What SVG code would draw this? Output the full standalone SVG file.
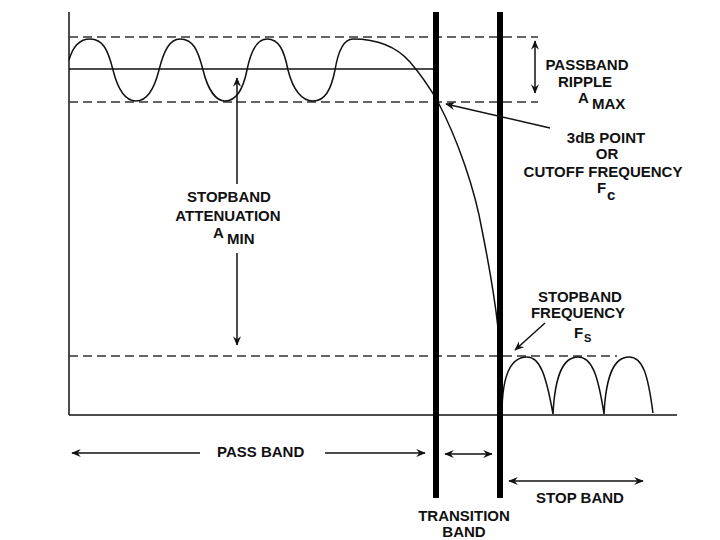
<svg xmlns="http://www.w3.org/2000/svg" width="720" height="540" viewBox="0 0 720 540">
<style>
.t{font-family:"Liberation Sans",Arial,sans-serif;font-weight:bold;font-size:15px;fill:#111}
.m{text-anchor:middle}
.thin{stroke:#111;stroke-width:1.5;fill:none}
.dash{stroke:#333;stroke-width:1.5;stroke-dasharray:9,5;fill:none}
.thick{stroke:#000;stroke-width:6;fill:none}
.arr{stroke:#111;stroke-width:1.5;fill:none;marker-end:url(#ah)}
.arr2{stroke:#111;stroke-width:1.5;fill:none;marker-end:url(#ah);marker-start:url(#ahs)}
</style>
<defs>
<marker id="ah" viewBox="0 0 12 10" refX="11" refY="5" markerWidth="10" markerHeight="8" markerUnits="userSpaceOnUse" orient="auto">
<path d="M0,0 L12,5 L0,10 L4,5 z" fill="#111"/>
</marker>
<marker id="ahs" viewBox="0 0 12 10" refX="1" refY="5" markerWidth="10" markerHeight="8" markerUnits="userSpaceOnUse" orient="auto">
<path d="M12,0 L0,5 L12,10 L8,5 z" fill="#111"/>
</marker>
</defs>
<rect width="720" height="540" fill="#fff"/>
<g id="axes">
<line class="thin" x1="69" y1="12" x2="69" y2="415"/>
<line class="thin" x1="69" y1="415" x2="677" y2="415"/>
<line class="thin" x1="69" y1="69" x2="434" y2="69"/>
</g>
<g id="levels">
<line class="dash" x1="69" y1="37" x2="538" y2="37"/>
<line class="dash" x1="69" y1="102" x2="538" y2="102"/>
<line class="dash" x1="69" y1="356" x2="617" y2="356"/>
</g>
<g id="response">
<path class="thin" d="M69,60 C73,46 80,39 90,39 C103,39 108,50 113,70 C118,90 126,101 136,101 C146,101 154,90 159,70 C164,50 170,39 180,39 C193,39 198,50 203,70 C208,90 216,101 225,101 C236,101 243,90 247,70 C251,50 257,39 267,39 C279,39 284,50 288,70 C293,90 302,101 313,101 C325,101 331,90 335,70 C338,52 344,39 353,39 C375,39 395,45 410,62 C422,76 430,88 438,102 C458,140 475,190 482,230 C490,270 495,300 498,328"/>
<path class="thin" d="M502,414 C502,372 512,357 527,357 C540,357 546,375 553,414 C555,375 563,357 578,357 C592,357 598,375 604,414 C606,375 614,357 629,357 C643,357 648,375 653,413"/>
</g>
<g id="bands">
<line class="thick" x1="436" y1="12" x2="436" y2="498"/>
<line class="thick" x1="500" y1="12" x2="500" y2="498"/>
</g>
<g id="connectors">
<line class="arr2" x1="535" y1="41" x2="535" y2="93"/>
<line class="arr" x1="550" y1="128" x2="446" y2="104"/>
<line class="arr" x1="237" y1="184" x2="237" y2="78"/>
<line class="arr" x1="237" y1="253" x2="237" y2="345"/>
<line class="arr" x1="545" y1="323" x2="515" y2="350"/>
<line class="arr" x1="200" y1="453" x2="72" y2="453"/>
<line class="arr" x1="325" y1="453" x2="425" y2="453"/>
<line class="arr2" x1="445" y1="454" x2="492" y2="454"/>
<line class="arr2" x1="509" y1="481" x2="643" y2="481"/>
</g>
<g id="label-ripple">
<text class="t m" x="587" y="70">PASSBAND</text>
<text class="t m" x="585" y="87">RIPPLE</text>
<text class="t" x="578" y="103">A</text>
<text class="t" x="592" y="109">MAX</text>
</g>
<g id="label-cutoff">
<text class="t m" x="606" y="143">3dB POINT</text>
<text class="t m" x="607" y="159">OR</text>
<text class="t m" x="603" y="177">CUTOFF FREQUENCY</text>
<text class="t" x="597" y="193">F</text>
<text class="t" x="607" y="200">c</text>
</g>
<g id="label-atten">
<text class="t m" x="229" y="202">STOPBAND</text>
<text class="t m" x="228" y="221">ATTENUATION</text>
<text class="t" x="213" y="238">A</text>
<text class="t" x="227" y="244">MIN</text>
</g>
<g id="label-stopfreq">
<text class="t m" x="580" y="302">STOPBAND</text>
<text class="t m" x="578" y="318">FREQUENCY</text>
<text class="t" x="574" y="338">F</text>
<text class="t" x="584" y="342" style="font-size:11px">S</text>
</g>
<g id="label-bands">
<text class="t" x="217" y="457">PASS BAND</text>
<text class="t m" x="580" y="503">STOP BAND</text>
<text class="t m" x="464" y="521">TRANSITION</text>
<text class="t m" x="464" y="537">BAND</text>
</g>
</svg>
